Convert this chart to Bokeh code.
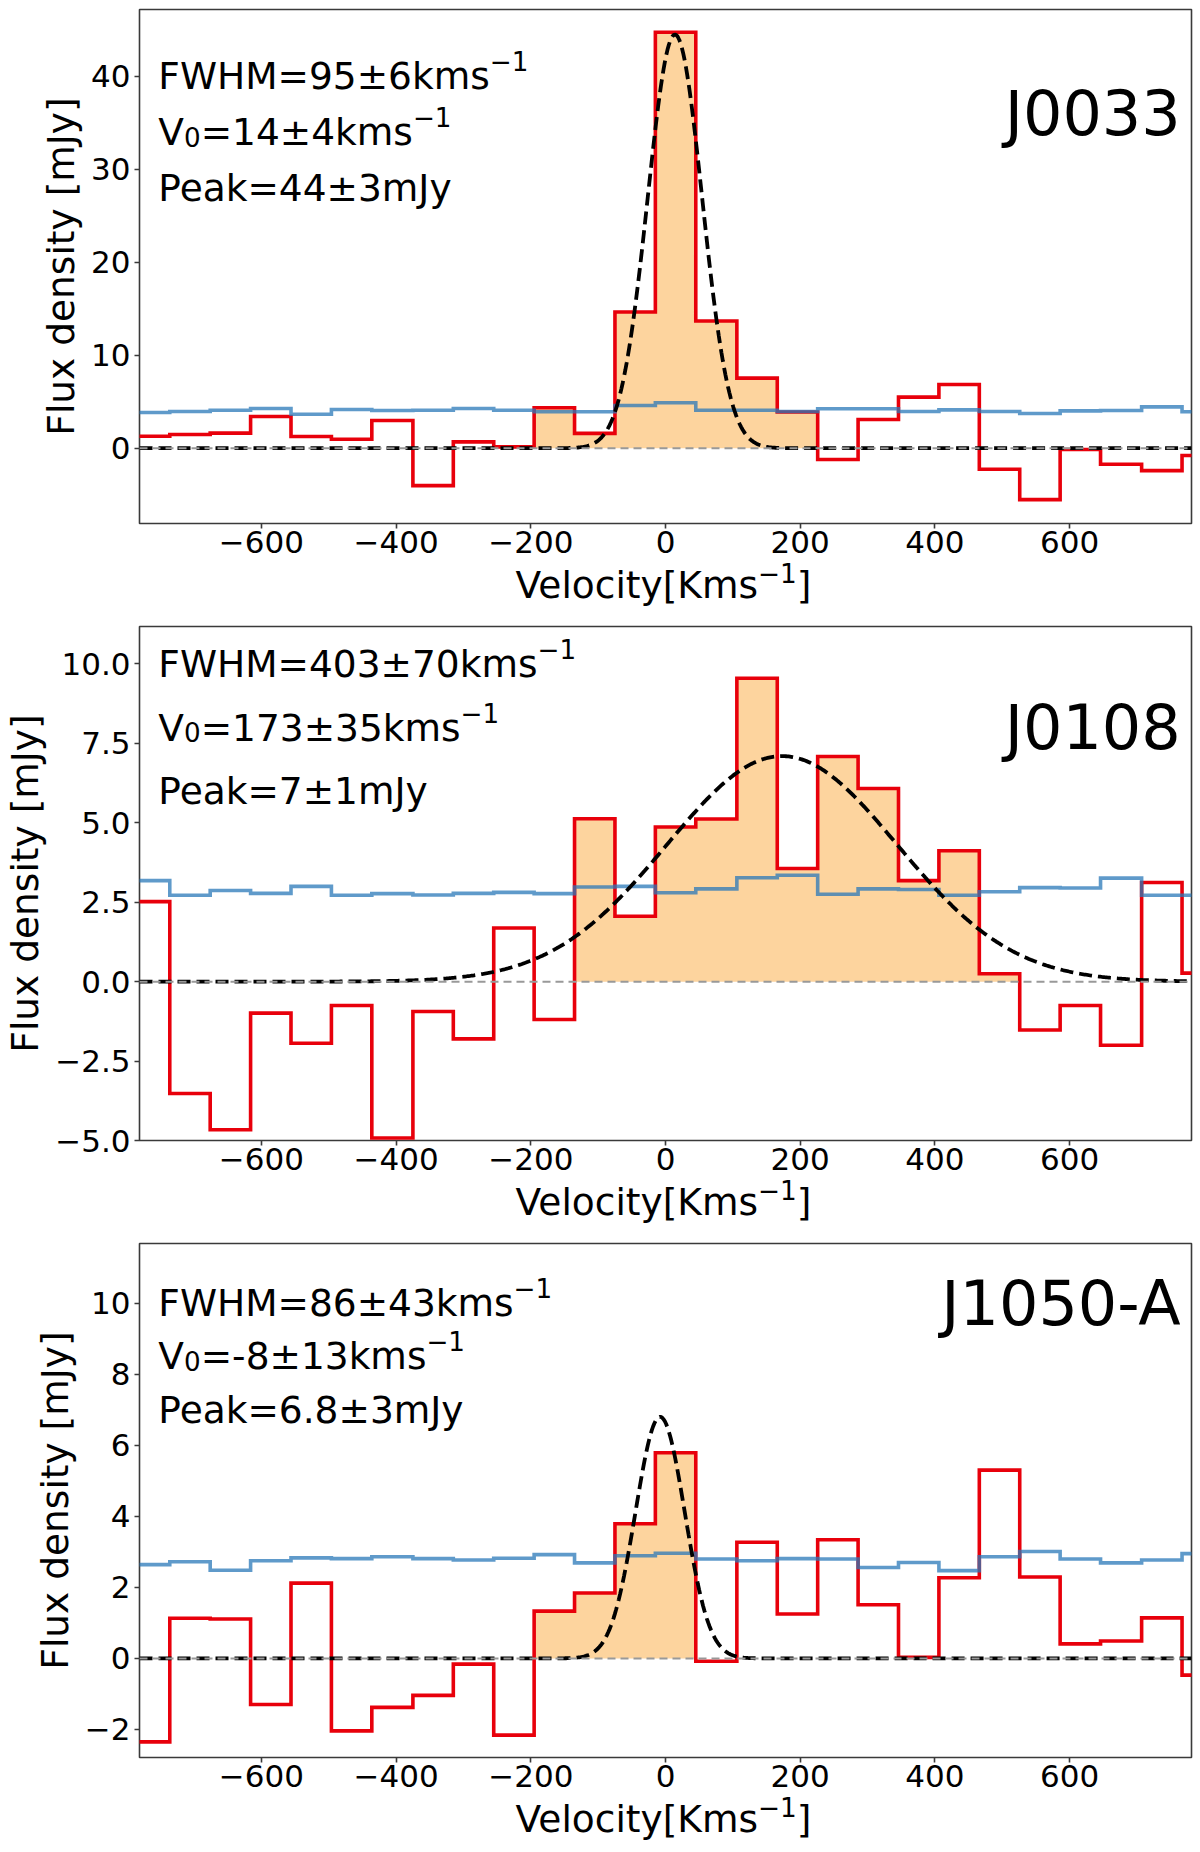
import numpy as np
from bokeh.plotting import figure
from bokeh.layouts import column
from bokeh.models import FixedTicker, Span, Label, Range1d, Div
from bokeh.embed import file_html
from bokeh.resources import INLINE

# channel centres [km/s] and channel width
velocity = [-766, -706, -646, -586, -526, -466, -406, -345, -285, -225, -165, -105, -45,
            15, 75, 136, 196, 256, 316, 376, 436, 496, 556, 616, 676, 737, 797]
channel_width = 60.1

names = ["J0033", "J0108", "J1050-A"]

# spectra (red) and rms level (blue), mJy
flux_j0033 = [1.29, 1.47, 1.62, 3.41, 1.26, 0.97, 2.98, -4.02, 0.68, 0.14, 4.35, 1.60, 14.66,
              44.76, 13.69, 7.54, 3.90, -1.22, 3.09, 5.50, 6.86, -2.26, -5.53, -0.14, -1.72, -2.41, -0.79]
rms_j0033 = [3.84, 3.95, 4.09, 4.27, 3.66, 4.17, 4.06, 4.09, 4.27, 4.09, 3.92, 3.92, 4.60,
             4.89, 4.09, 4.09, 3.95, 4.24, 4.24, 3.95, 4.13, 3.95, 3.74, 4.02, 4.06, 4.45, 3.92]

flux_j0108 = [2.52, -3.52, -4.66, -0.99, -1.94, -0.75, -4.92, -0.94, -1.80, 1.69, -1.19, 5.13, 2.06,
              4.87, 5.12, 9.55, 3.56, 7.09, 6.08, 3.18, 4.12, 0.25, -1.52, -0.75, -2.00, 3.12, 0.27]
rms_j0108 = [3.18, 2.72, 2.87, 2.78, 3.00, 2.72, 2.77, 2.73, 2.78, 2.81, 2.77, 2.98, 3.00,
             2.80, 2.92, 3.27, 3.35, 2.75, 2.92, 2.90, 2.72, 2.83, 2.96, 2.95, 3.26, 2.72, 2.72]

flux_j1050 = [-2.35, 1.13, 1.11, -1.30, 2.12, -2.04, -1.38, -1.04, -0.16, -2.16, 1.33, 1.84, 3.79,
              5.79, -0.08, 3.27, 1.25, 3.34, 1.51, 0.03, 2.27, 5.30, 2.29, 0.41, 0.49, 1.14, -0.47]
rms_j1050 = [2.64, 2.72, 2.48, 2.75, 2.83, 2.81, 2.86, 2.81, 2.77, 2.82, 2.92, 2.69, 2.89,
             2.96, 2.80, 2.75, 2.81, 2.80, 2.56, 2.70, 2.47, 2.86, 3.01, 2.80, 2.69, 2.77, 2.95]

# gaussian fits
fit_fwhm = [95, 403, 86]
fit_v0 = [14, 173, -8]
fit_peak = [44.5, 7.1, 6.8]

# channels included in the shaded line region
fill_first = [10, 11, 10]
fill_last = [16, 21, 13]

# annotation lines: (text, "n" normal / "sup" / "sub")
fit_text = [
    [[("FWHM=95±6kms", "n"), ("−1", "sup")],
     [("V", "n"), ("0", "sub"), ("=14±4kms", "n"), ("−1", "sup")],
     [("Peak=44±3mJy", "n")]],
    [[("FWHM=403±70kms", "n"), ("−1", "sup")],
     [("V", "n"), ("0", "sub"), ("=173±35kms", "n"), ("−1", "sup")],
     [("Peak=7±1mJy", "n")]],
    [[("FWHM=86±43kms", "n"), ("−1", "sup")],
     [("V", "n"), ("0", "sub"), ("=-8±13kms", "n"), ("−1", "sup")],
     [("Peak=6.8±3mJy", "n")]],
]
text_y = [[40, 34, 28], [10, 8, 6], [10, 8.5, 7]]
name_y = [36, 8, 10]

y_limits = [(-8.1, 47.2), (-5.0, 11.18), (-2.79, 11.68)]
y_ticks = [[0, 10, 20, 30, 40],
           [-5, -2.5, 0, 2.5, 5, 7.5, 10],
           [-2, 0, 2, 4, 6, 8, 10]]
y_labels = [["0", "10", "20", "30", "40"],
            ["−5.0", "−2.5", "0.0", "2.5", "5.0", "7.5", "10.0"],
            ["−2", "0", "2", "4", "6", "8", "10"]]
x_ticks = [-600, -400, -200, 0, 200, 400, 600]
x_labels = ["−600", "−400", "−200", "0", "200", "400", "600"]

fluxes = [flux_j0033, flux_j0108, flux_j1050]
rmses = [rms_j0033, rms_j0108, rms_j1050]

FONT = "DejaVu Sans"
FRAME = "#3a3a3a"
TXT = 37.5

# DejaVu Sans advance widths (em) used to lay out super/subscripts
ADV = {"F": .575, "W": .989, "H": .752, "M": .863, "=": .838, "±": .838, "−": .838,
       "k": .579, "m": .974, "s": .521, "V": .684, "-": .361, ".": .318, "P": .603,
       "e": .615, "a": .613, "J": .295, "y": .592}
for d in "0123456789":
    ADV[d] = .636


def rich_label(p, x, y, parts, size):
    off = 0.0
    for s, k in parts:
        fs = size * (0.7 if k != "n" else 1.0)
        shift = {"n": 0.0, "sup": 0.40 * size, "sub": -0.13 * size}[k]
        p.add_layout(Label(x=x, y=y, x_offset=off, y_offset=shift, text=s,
                           text_font=FONT, text_font_size=f"{fs:.1f}px", text_color="black",
                           text_baseline="alphabetic", text_align="left"))
        off += sum(ADV[c] for c in s) * fs


def step_path(lo, hi, vals):
    xs = np.column_stack([lo, hi]).ravel()
    ys = np.repeat(vals, 2)
    return xs, ys


def panel(i):
    v = np.array(velocity, dtype=float)
    lo = v - channel_width / 2
    hi = v + channel_width / 2
    flux = np.array(fluxes[i])
    rms = np.array(rmses[i])

    p = figure(width=1200, height=567,
               x_range=Range1d(-781, 781), y_range=Range1d(*y_limits[i]),
               output_backend="svg", toolbar_location=None,
               min_border_left=136, min_border_right=9,
               min_border_top=9, min_border_bottom=44)
    p.xgrid.visible = False
    p.ygrid.visible = False
    p.outline_line_color = FRAME
    p.outline_line_width = 1.6
    p.background_fill_color = "white"
    p.border_fill_color = "white"

    # shaded line channels
    a, b = fill_first[i], fill_last[i] + 1
    fx, fy = step_path(lo[a:b], hi[a:b], flux[a:b])
    p.varea(x=fx, y1=np.zeros_like(fy), y2=fy, fill_color="#fdd49e", fill_alpha=1.0)

    p.add_layout(Span(location=0, dimension="width", line_color="#999999",
                      line_width=2, line_dash="8 5"))

    sx = np.append(lo, hi[-1])
    p.step(x=sx, y=np.append(flux, flux[-1]), mode="after",
           line_color="#e8000b", line_width=3.6, line_join="miter")
    p.step(x=sx, y=np.append(rms, rms[-1]), mode="after",
           line_color="#2a78b8", line_alpha=0.75, line_width=3.6, line_join="miter")

    gx = np.linspace(-781, 781, 800)
    sig = fit_fwhm[i] / (2 * np.sqrt(2 * np.log(2)))
    gy = fit_peak[i] * np.exp(-0.5 * ((gx - fit_v0[i]) / sig) ** 2)
    p.line(gx, gy, line_color="black", line_width=3.8, line_dash="13 6")

    for parts, yy in zip(fit_text[i], text_y[i]):
        rich_label(p, -753, yy, parts, TXT)
    p.add_layout(Label(x=765, y=name_y[i], text=names[i], text_font=FONT,
                       text_font_size="62px", text_color="black",
                       text_baseline="alphabetic", text_align="right"))

    for ax in (p.xaxis, p.yaxis):
        ax.axis_line_color = None
        ax.major_tick_line_color = FRAME
        ax.major_tick_line_width = 1.6
        ax.major_tick_out = 5
        ax.major_tick_in = 0
        ax.minor_tick_line_color = None
        ax.major_label_text_font = FONT
        ax.major_label_text_font_size = "31px"
        ax.major_label_text_color = "black"
        ax.axis_label_text_font = FONT
        ax.axis_label_text_font_size = f"{TXT}px"
        ax.axis_label_text_font_style = "normal"
        ax.axis_label_text_color = "black"

    p.xaxis.ticker = FixedTicker(ticks=x_ticks)
    p.xaxis.major_label_overrides = dict(zip(x_ticks, x_labels))
    p.xaxis.major_label_standoff = 2

    p.yaxis.ticker = FixedTicker(ticks=y_ticks[i])
    p.yaxis.major_label_overrides = dict(zip(y_ticks[i], y_labels[i]))
    p.yaxis.major_label_standoff = 4
    p.yaxis.axis_label = "Flux density [mJy]"
    p.yaxis.axis_label_standoff = 5

    # x axis title (with a real superscript), centred under the frame
    title = Div(
        text=('<div style="width:1055px;margin-left:136px;text-align:center;'
              'white-space:nowrap;">Velocity[Kms'
              '<span style="font-size:26.3px;position:relative;top:-15px;">−1</span>]</div>'),
        width=1200, height=50, margin=0,
        styles={"font-family": FONT, "font-size": f"{TXT}px", "line-height": "37px",
                "color": "black"})
    return [p, title]


items = []
for i in range(3):
    items.extend(panel(i))
layout = column(*items, spacing=0)

with open("out.html", "w") as f:
    f.write(file_html(layout, INLINE))
